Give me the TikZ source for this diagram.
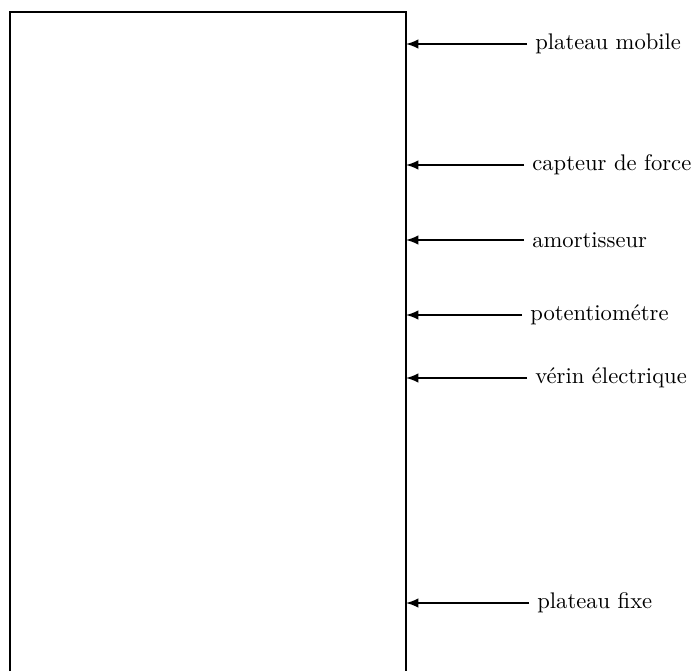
\documentclass[tikz,border=0pt]{standalone}
\usetikzlibrary{arrows}

\begin{document}
\begin{tikzpicture}[x=0.4425pt, y=-0.4425pt,
	frame/.style={line width=1.2pt},
	pointer/.style={-latex, line width=0.9pt},
	tag/.style={anchor=west, inner xsep=3.5pt}]
	\useasboundingbox (0,0) rectangle (696,671);
	\draw[frame] (10,671) -- (10,12) -- (406,12) -- (406,671);

	\node[tag] (MOBILE)  at (527,44)  {plateau mobile};
	\node[tag] (FORCE)   at (524,165) {capteur de force};
	\node[tag] (AMORT)   at (524,240) {amortisseur};
	\node[tag] (POT)     at (522,315) {potentiométre};
	\node[tag] (VERIN)   at (527,378) {vérin électrique};
	\node[tag] (FIXE)    at (529,603) {plateau fixe};

	\coordinate (@MOBILE) at (406,44);
	\coordinate (@FORCE)  at (406,165);
	\coordinate (@AMORT)  at (406,240);
	\coordinate (@POT)    at (406,315);
	\coordinate (@VERIN)  at (406,378);
	\coordinate (@FIXE)   at (406,603);

	\draw[pointer] (MOBILE.west) -- (@MOBILE);
	\draw[pointer] (FORCE.west)  -- (@FORCE);
	\draw[pointer] (AMORT.west)  -- (@AMORT);
	\draw[pointer] (POT.west)    -- (@POT);
	\draw[pointer] (VERIN.west)  -- (@VERIN);
	\draw[pointer] (FIXE.west)   -- (@FIXE);
\end{tikzpicture}
\end{document}
